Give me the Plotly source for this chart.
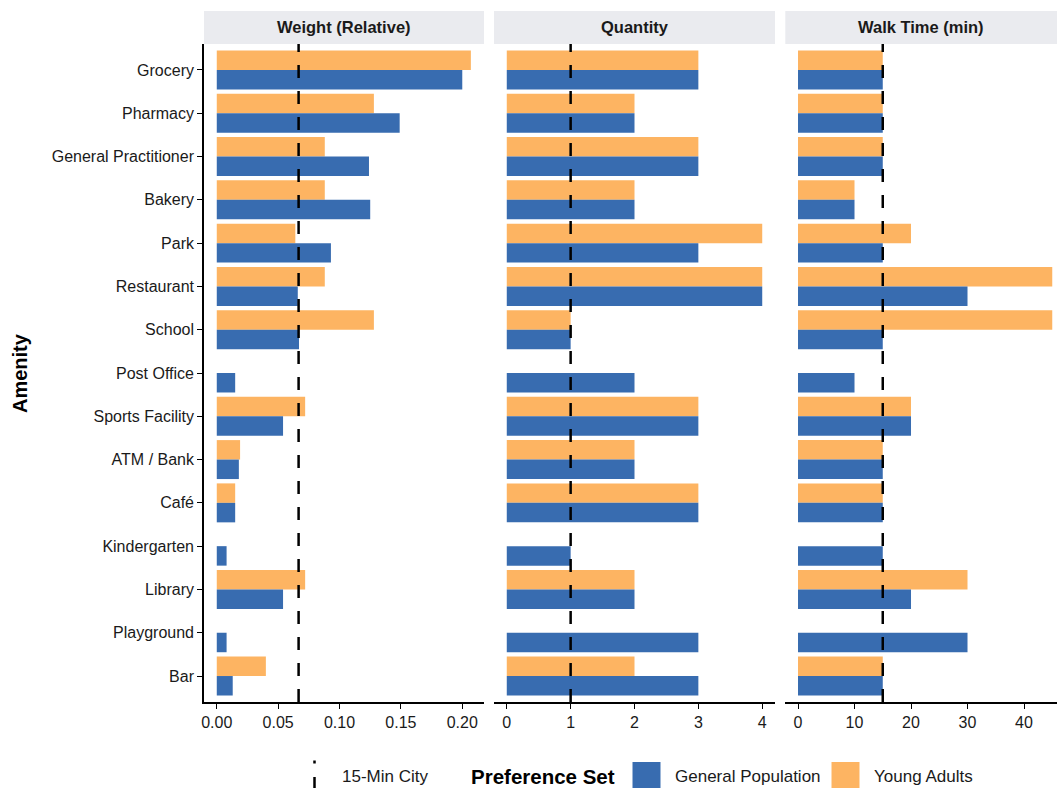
import plotly.graph_objects as go

amenities = ["Grocery", "Pharmacy", "General Practitioner", "Bakery", "Park",
             "Restaurant", "School", "Post Office", "Sports Facility", "ATM / Bank",
             "Café", "Kindergarten", "Library", "Playground", "Bar"]

weight_gp = [0.200, 0.149, 0.124, 0.125, 0.093, 0.066, 0.067, 0.015, 0.054, 0.018,
             0.015, 0.008, 0.054, 0.008, 0.013]
weight_ya = [0.207, 0.128, 0.088, 0.088, 0.064, 0.088, 0.128, None, 0.072, 0.019,
             0.015, None, 0.072, None, 0.040]
qty_gp = [3, 2, 3, 2, 3, 4, 1, 2, 3, 2, 3, 1, 2, 3, 3]
qty_ya = [3, 2, 3, 2, 4, 4, 1, None, 3, 2, 3, None, 2, None, 2]
walk_gp = [15, 15, 15, 10, 15, 30, 15, 10, 20, 15, 15, 15, 20, 30, 15]
walk_ya = [15, 15, 15, 10, 20, 45, 45, None, 20, 15, 15, None, 30, None, 15]

panels = ["Weight (Relative)", "Quantity", "Walk Time (min)"]
thresholds = [1 / 15, 1, 15]
x_ranges = [[-0.0104, 0.2177], [-0.2, 4.2], [-2.25, 45.84]]
x_ticks = [[0, 0.05, 0.10, 0.15, 0.20], [0, 1, 2, 3, 4], [0, 10, 20, 30, 40]]
x_ticktext = [["0.00", "0.05", "0.10", "0.15", "0.20"], ["0", "1", "2", "3", "4"],
              ["0", "10", "20", "30", "40"]]

GP_COLOR = "#386CB0"
YA_COLOR = "#FDB462"
FONT = "Liberation Sans, Arial, sans-serif"
TXT = "#1a1a1a"

W, H = 1057, 788
ML, MR, MT, MB = 204, 0, 44, 86
PW = W - ML - MR
PH = H - MT - MB

def px_x(px):
    return (px - ML) / PW

def px_y(py):
    return (H - MB - py) / PH

domains = [
    [px_x(204), px_x(484)],
    [px_x(494), px_x(775)],
    [px_x(785.3), 1.0],
]

series = [(weight_ya, weight_gp), (qty_ya, qty_gp), (walk_ya, walk_gp)]

fig = go.Figure()
for i, (ya, gp) in enumerate(series):
    xa = "x" if i == 0 else f"x{i+1}"
    fig.add_trace(go.Bar(y=amenities, x=ya, orientation="h", name="Young Adults",
                         marker=dict(color=YA_COLOR, line=dict(width=0)),
                         xaxis=xa, yaxis="y", showlegend=False, offsetgroup="ya"))
    fig.add_trace(go.Bar(y=amenities, x=gp, orientation="h", name="General Population",
                         marker=dict(color=GP_COLOR, line=dict(width=0)),
                         xaxis=xa, yaxis="y", showlegend=False, offsetgroup="gp"))

layout = dict(
    width=W, height=H,
    margin=dict(l=ML, r=MR, t=MT, b=MB, autoexpand=False),
    paper_bgcolor="white", plot_bgcolor="white",
    font=dict(family=FONT, size=16, color=TXT),
    barmode="group", bargap=0.1, bargroupgap=0,
    showlegend=False,
    yaxis=dict(categoryorder="array", categoryarray=amenities,
               range=[14.6, -0.6], showline=True, linecolor="black", linewidth=1.6,
               ticks="outside", ticklen=5, tickwidth=1.4, tickcolor="black",
               tickfont=dict(size=16, color=TXT), showgrid=False,
               zeroline=False, anchor="x"),
)
for i in range(3):
    key = "xaxis" if i == 0 else f"xaxis{i+1}"
    layout[key] = dict(domain=domains[i], range=x_ranges[i], anchor="y",
                       tickvals=x_ticks[i], ticktext=x_ticktext[i],
                       showline=True, linecolor="black", linewidth=1.6,
                       ticks="outside", ticklen=5, tickwidth=1.4, tickcolor="black",
                       tickfont=dict(size=16, color=TXT),
                       showgrid=False, zeroline=False)
fig.update_layout(**layout)

shapes = []
annotations = []
strip_top = 1 + 33 / PH
for i in range(3):
    xr = "x" if i == 0 else f"x{i+1}"
    shapes.append(dict(type="rect", xref="paper", yref="paper",
                       x0=domains[i][0], x1=domains[i][1] if i < 2 else 1.02,
                       y0=1.0, y1=strip_top,
                       fillcolor="#EAEBEF", line=dict(width=0), layer="below"))
    annotations.append(dict(text=f"<b>{panels[i]}</b>", xref="paper", yref="paper",
                            x=(domains[i][0] + domains[i][1]) / 2, y=(1 + strip_top) / 2,
                            showarrow=False, font=dict(size=16.5, color=TXT),
                            xanchor="center", yanchor="middle"))
    shapes.append(dict(type="line", xref=xr, yref="paper",
                       x0=thresholds[i], x1=thresholds[i], y0=0, y1=1,
                       line=dict(color="black", width=2.5, dash="13px,13px"),
                       layer="above"))

annotations.append(dict(text="<b>Amenity</b>", xref="paper", yref="paper",
                        x=px_x(20), y=0.5, textangle=-90, showarrow=False,
                        font=dict(size=20, color="black"),
                        xanchor="center", yanchor="middle"))

# legend (drawn manually to match key sizes)
LEG_Y = 776.5
shapes.append(dict(type="line", xref="paper", yref="paper",
                   x0=px_x(314.5), x1=px_x(314.5), y0=px_y(760.5), y1=px_y(763.5),
                   line=dict(color="black", width=2.5)))
shapes.append(dict(type="line", xref="paper", yref="paper",
                   x0=px_x(314.5), x1=px_x(314.5), y0=px_y(777), y1=px_y(790),
                   line=dict(color="black", width=2.5)))
annotations.append(dict(text="15-Min City", xref="paper", yref="paper",
                        x=px_x(340), y=px_y(LEG_Y), xanchor="left", yanchor="middle",
                        showarrow=False, font=dict(size=17, color=TXT)))
annotations.append(dict(text="<b>Preference Set</b>", xref="paper", yref="paper",
                        x=px_x(469), y=px_y(LEG_Y), xanchor="left", yanchor="middle",
                        showarrow=False, font=dict(size=20.5, color="black")))
legend_items = [("General Population", GP_COLOR, 632.5, 673),
                ("Young Adults", YA_COLOR, 831.5, 872)]
for name, col, kx, tx in legend_items:
    shapes.append(dict(type="rect", xref="paper", yref="paper",
                       x0=px_x(kx), x1=px_x(kx + 28), y0=px_y(762), y1=px_y(790),
                       fillcolor=col, line=dict(width=0)))
    annotations.append(dict(text=name, xref="paper", yref="paper",
                            x=px_x(tx), y=px_y(LEG_Y), xanchor="left", yanchor="middle",
                            showarrow=False, font=dict(size=17, color=TXT)))

fig.update_layout(shapes=shapes, annotations=annotations)

fig.write_html("out.html",
               config={"displayModeBar": False},
               post_script="document.body.style.margin='0px';"
                           "document.body.style.overflow='hidden';")
